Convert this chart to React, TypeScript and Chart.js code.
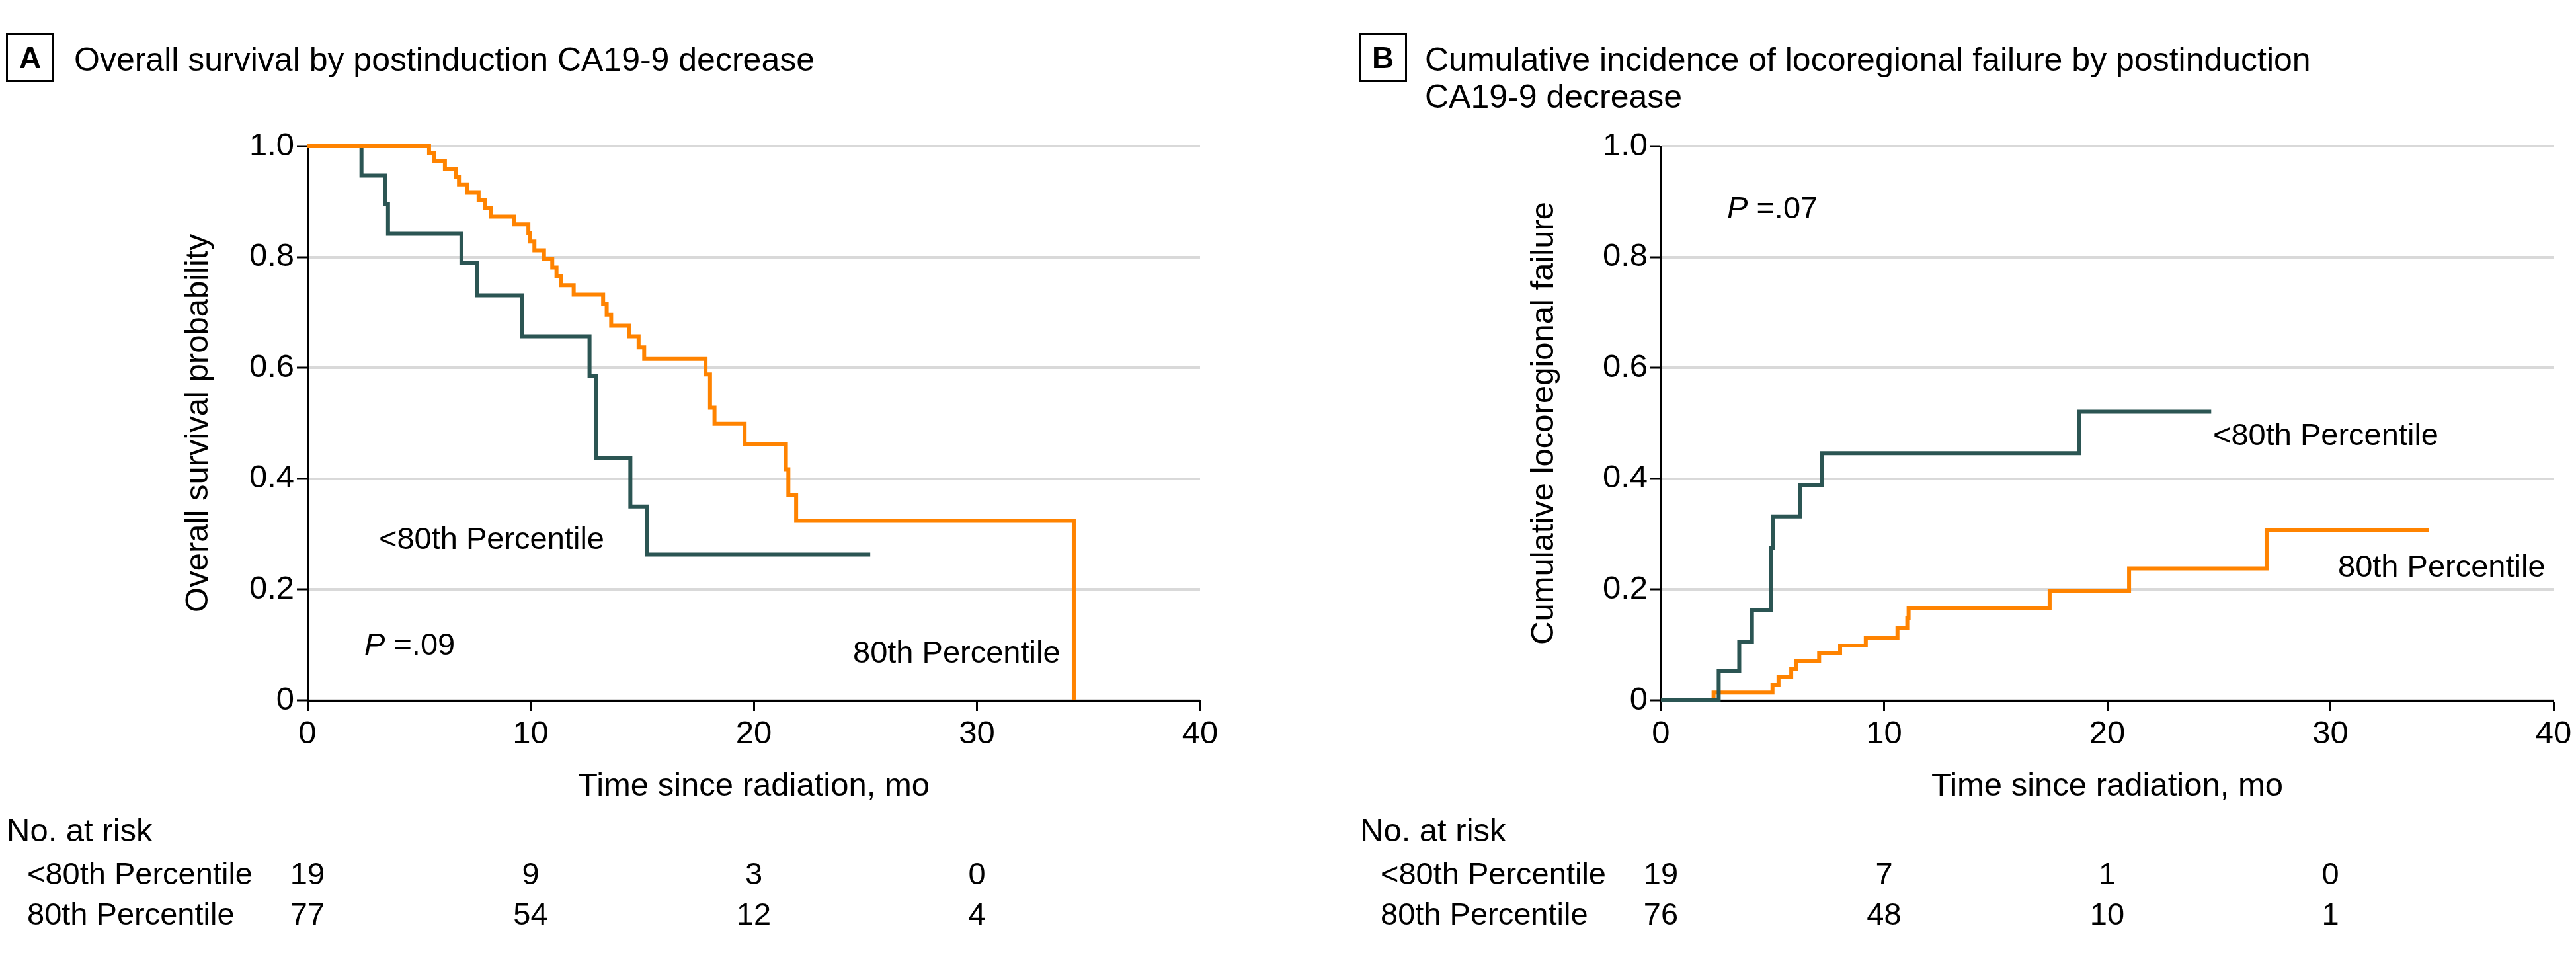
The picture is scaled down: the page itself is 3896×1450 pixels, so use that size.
import React, { useEffect, useRef } from "react";
import { Chart, registerables } from "chart.js";

Chart.register(...registerables);

const FONT = '"Liberation Sans", Arial, sans-serif';
const TEAL = "#2B5553";
const ORANGE = "#FF8300";

// ---------- Panel A: overall survival ----------
const aLowTimes = [0, 2.42, 3.48, 3.61, 6.9, 7.61, 9.6, 12.64, 12.94, 14.47, 15.2, 25.22];
const aLowValues = [1.0, 0.947, 0.895, 0.842, 0.789, 0.731, 0.657, 0.585, 0.438, 0.35, 0.263, 0.263];
const aHighTimes = [
  0, 5.45, 5.67, 6.16, 6.66, 6.79, 7.15, 7.67, 7.97, 8.22, 9.27, 9.9, 9.97, 10.17, 10.6, 10.97,
  11.16, 11.36, 11.93, 13.25, 13.41, 13.61, 14.4, 14.84, 15.09, 17.84, 18.04, 18.24, 19.59, 21.44,
  21.55, 21.9, 34.34,
];
const aHighValues = [
  1.0, 0.987, 0.973, 0.959, 0.945, 0.931, 0.916, 0.902, 0.888, 0.873, 0.859, 0.843, 0.828, 0.812,
  0.796, 0.781, 0.765, 0.749, 0.732, 0.715, 0.696, 0.676, 0.657, 0.637, 0.616, 0.588, 0.528, 0.499,
  0.463, 0.417, 0.371, 0.324, 0.0,
];

// ---------- Panel B: cumulative incidence of locoregional failure ----------
const bLowTimes = [0, 2.59, 3.51, 4.08, 4.92, 5.01, 6.24, 7.22, 18.75, 24.66];
const bLowValues = [0, 0.053, 0.105, 0.163, 0.275, 0.332, 0.389, 0.446, 0.521, 0.521];
const bHighTimes = [0, 2.36, 5.0, 5.27, 5.84, 6.07, 7.09, 8.03, 9.18, 10.6, 11.04, 11.1, 17.42, 20.98, 27.14, 34.41];
const bHighValues = [0, 0.014, 0.028, 0.042, 0.057, 0.071, 0.085, 0.099, 0.113, 0.131, 0.148, 0.166, 0.198, 0.238, 0.308, 0.308];

// ---------- Numbers at risk ----------
const riskTimes = [0, 10, 20, 30];
const aRiskLow = [19, 9, 3, 0];
const aRiskHigh = [77, 54, 12, 4];
const bRiskLow = [19, 7, 1, 0];
const bRiskHigh = [76, 48, 10, 1];
const groupLabels = ["<80th Percentile", "80th Percentile"];

// ---------- Ticks ----------
const xTicks = [0, 10, 20, 30, 40];
const yTicks = [0, 0.2, 0.4, 0.6, 0.8, 1.0];

const CANVAS_W = 1948;
const CANVAS_H = 1450;
const PLOT_TOP = 221;
const PLOT_BOTTOM = 1059;
const X_SCALE_H = 100;

type Annot = { text: string; dx: number; y: number; italicP?: boolean };

type PanelCfg = {
  canvasLeft: number;
  yWidth: number;
  padRight: number;
  letter: string;
  boxLeft: number;
  titleLeft: number;
  titleLines: string[];
  yTitle: string;
  yTitleDx: number;
  datasets: any[];
  riskLow: number[];
  riskHigh: number[];
  annots: Annot[];
};

function ds(times: number[], values: number[], color: string) {
  return {
    data: times.map((t, i) => ({ x: t, y: values[i] })),
    borderColor: color,
    backgroundColor: color,
    borderWidth: 6,
    stepped: "before",
    pointRadius: 0,
    fill: false,
    clip: false,
    borderJoinStyle: "miter",
    borderCapStyle: "butt",
  };
}

function drawPText(ctx: CanvasRenderingContext2D, text: string, x: number, y: number) {
  // text like "P =.09" with italic P
  ctx.font = `italic 47px ${FONT}`;
  ctx.fillText("P", x, y);
  const w = ctx.measureText("P").width;
  ctx.font = `47px ${FONT}`;
  ctx.fillText(text.slice(1), x + w, y);
}

function makePlugin(cfg: PanelCfg) {
  return {
    id: "decor" + cfg.letter,
    afterDraw(chart: any) {
      const ctx: CanvasRenderingContext2D = chart.ctx;
      const { left, right, top, bottom } = chart.chartArea;
      const xs = chart.scales.x;
      ctx.save();
      ctx.fillStyle = "#000";
      ctx.strokeStyle = "#000";

      // panel letter box
      ctx.lineWidth = 3;
      ctx.strokeRect(cfg.boxLeft + 1.5, 51.5, 70, 71);
      ctx.font = `bold 46px ${FONT}`;
      ctx.textAlign = "center";
      ctx.textBaseline = "alphabetic";
      ctx.fillText(cfg.letter, cfg.boxLeft + 36.5, 103);

      // title
      ctx.font = `50px ${FONT}`;
      ctx.textAlign = "left";
      cfg.titleLines.forEach((line, i) => {
        ctx.fillText(line, cfg.titleLeft, 107 + i * 56);
      });

      // y axis title
      ctx.save();
      ctx.translate(left + cfg.yTitleDx, (top + bottom) / 2);
      ctx.rotate(-Math.PI / 2);
      ctx.textAlign = "center";
      ctx.font = `49px ${FONT}`;
      ctx.fillText(cfg.yTitle, 0, 0);
      ctx.restore();

      // x axis title
      ctx.font = `49px ${FONT}`;
      ctx.textAlign = "center";
      ctx.fillText("Time since radiation, mo", (left + right) / 2, 1203);

      // annotations
      ctx.textAlign = "left";
      cfg.annots.forEach((a) => {
        if (a.italicP) {
          drawPText(ctx, a.text, left + a.dx, a.y);
        } else {
          ctx.font = `47px ${FONT}`;
          ctx.fillText(a.text, left + a.dx, a.y);
        }
      });

      // numbers at risk
      ctx.font = `49px ${FONT}`;
      ctx.textAlign = "left";
      ctx.fillText("No. at risk", left - 455, 1272);
      ctx.font = `47px ${FONT}`;
      ctx.fillText(groupLabels[0], left - 424, 1337);
      ctx.fillText(groupLabels[1], left - 424, 1398);
      ctx.textAlign = "center";
      riskTimes.forEach((t, i) => {
        const px = xs.getPixelForValue(t);
        ctx.fillText(String(cfg.riskLow[i]), px, 1337);
        ctx.fillText(String(cfg.riskHigh[i]), px, 1398);
      });
      ctx.restore();
    },
  };
}

function Panel({ cfg }: { cfg: PanelCfg }) {
  const ref = useRef<HTMLCanvasElement>(null);
  useEffect(() => {
    const canvas = ref.current!;
    const chart = new Chart(canvas, {
      type: "line",
      data: { datasets: cfg.datasets },
      options: {
        animation: false,
        responsive: false,
        devicePixelRatio: 1,
        events: [],
        layout: {
          padding: {
            left: 0,
            right: cfg.padRight,
            top: PLOT_TOP,
            bottom: CANVAS_H - PLOT_BOTTOM - X_SCALE_H,
          },
        },
        plugins: {
          legend: { display: false },
          tooltip: { enabled: false },
          title: { display: false },
        },
        scales: {
          x: {
            type: "linear",
            min: 0,
            max: 40,
            afterBuildTicks: (s: any) => {
              s.ticks = xTicks.map((v) => ({ value: v }));
            },
            afterFit: (s: any) => {
              s.height = X_SCALE_H;
            },
            ticks: {
              font: { family: FONT, size: 49 },
              color: "#000",
              padding: 6,
              maxRotation: 0,
              autoSkip: false,
            },
            grid: {
              drawOnChartArea: false,
              tickLength: 16,
              tickWidth: 3,
              tickColor: "#000",
            },
            border: { color: "#000", width: 3 },
          },
          y: {
            type: "linear",
            min: 0,
            max: 1,
            afterBuildTicks: (s: any) => {
              s.ticks = yTicks.map((v) => ({ value: v }));
            },
            afterFit: (s: any) => {
              s.width = cfg.yWidth;
            },
            ticks: {
              font: { family: FONT, size: 49 },
              color: "#000",
              padding: 4,
              callback: (v: any) => (Number(v) === 0 ? "0" : Number(v).toFixed(1)),
            },
            grid: {
              color: "#d9d9d9",
              lineWidth: 4,
              tickLength: 16,
              tickWidth: 3,
              tickColor: "#000",
            },
            border: { color: "#000", width: 3 },
          },
        },
      } as any,
      plugins: [makePlugin(cfg)],
    });
    return () => chart.destroy();
  }, []);
  return (
    <canvas
      ref={ref}
      width={CANVAS_W}
      height={CANVAS_H}
      style={{ position: "absolute", left: cfg.canvasLeft, top: 0, width: CANVAS_W, height: CANVAS_H }}
    />
  );
}

const panelA: PanelCfg = {
  canvasLeft: 0,
  yWidth: 465,
  padRight: CANVAS_W - 1815,
  letter: "A",
  boxLeft: 9,
  titleLeft: 112,
  titleLines: ["Overall survival by postinduction CA19-9 decrease"],
  yTitle: "Overall survival probability",
  yTitleDx: -151,
  datasets: [ds(aHighTimes, aHighValues, ORANGE), ds(aLowTimes, aLowValues, TEAL)],
  riskLow: aRiskLow,
  riskHigh: aRiskHigh,
  annots: [
    { text: "<80th Percentile", dx: 108, y: 830 },
    { text: "P =.09", dx: 86, y: 990, italicP: true },
    { text: "80th Percentile", dx: 825, y: 1002 },
  ],
};

const panelB: PanelCfg = {
  canvasLeft: 1948,
  yWidth: 564,
  padRight: CANVAS_W - 1914,
  letter: "B",
  boxLeft: 107,
  titleLeft: 207,
  titleLines: ["Cumulative incidence of locoregional failure by postinduction", "CA19-9 decrease"],
  yTitle: "Cumulative locoregional failure",
  yTitleDx: -163,
  datasets: [ds(bLowTimes, bLowValues, TEAL), ds(bHighTimes, bHighValues, ORANGE)],
  riskLow: bRiskLow,
  riskHigh: bRiskHigh,
  annots: [
    { text: "P =.07", dx: 100, y: 330, italicP: true },
    { text: "<80th Percentile", dx: 835, y: 673 },
    { text: "80th Percentile", dx: 1024, y: 872 },
  ],
};

export default function App() {
  return (
    <div
      style={{
        position: "absolute",
        left: 0,
        top: 0,
        width: 3896,
        height: 1450,
        background: "#fff",
        overflow: "hidden",
      }}
    >
      <Panel cfg={panelA} />
      <Panel cfg={panelB} />
    </div>
  );
}
